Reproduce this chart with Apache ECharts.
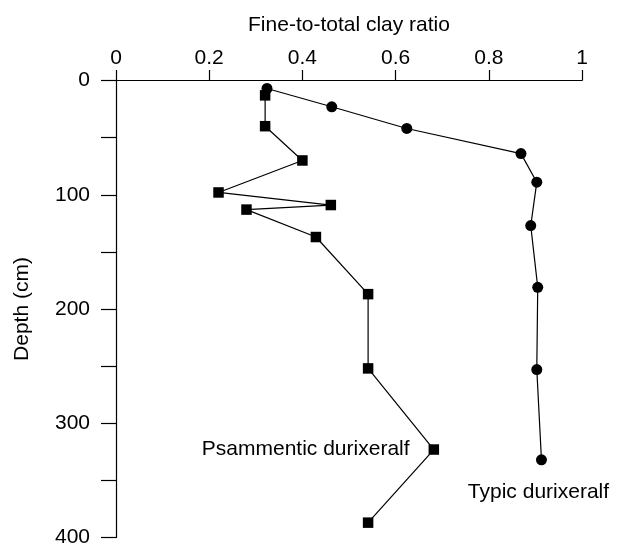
<!DOCTYPE html>
<html>
<head>
<meta charset="utf-8">
<script src="https://cdn.jsdelivr.net/npm/echarts@6/dist/echarts.min.js"></script>
<style>
html,body{margin:0;padding:0;background:#fff;}
#chart{width:624px;height:548px;}
</style>
</head>
<body>
<div id="chart"></div>
<script>
// Typic durixeralf (circles)
const typicRatio = [0.324, 0.463, 0.624, 0.869, 0.903, 0.890, 0.905, 0.903, 0.913];
const typicDepth = [7, 23, 42, 64, 89, 127, 181, 253, 332];
// Psammentic durixeralf (squares)
const psammRatio = [0.32, 0.32, 0.40, 0.22, 0.461, 0.28, 0.429, 0.541, 0.541, 0.682, 0.541];
const psammDepth = [13, 40, 70, 98, 109, 113, 137, 187, 252, 323, 387];
const seriesNames = ['Psammentic durixeralf', 'Typic durixeralf'];
const xTicks = [0, 0.2, 0.4, 0.6, 0.8, 1];
const yLabelTicks = [0, 100, 200, 300, 400];

const FONT = "'Liberation Sans', Arial, Helvetica, sans-serif";
const FS = 21;

function build(xs, ys) { return xs.map((x, i) => [x, ys[i]]); }

const psammData = build(psammRatio, psammDepth).map((d, i) => {
  if (i === 9) {
    return { value: d, label: { show: true, formatter: seriesNames[0], position: 'left', distance: 19,
      color: '#000', fontSize: FS, fontFamily: FONT } };
  }
  return d;
});
const typicData = build(typicRatio, typicDepth).map((d, i, arr) => {
  if (i === arr.length - 1) {
    return { value: d, label: { show: true, formatter: seriesNames[1], position: 'bottom', distance: 16,
      offset: [-3, 0], color: '#000', fontSize: FS, fontFamily: FONT } };
  }
  return d;
});

const chart = echarts.init(document.getElementById('chart'));
chart.setOption({
  animation: false,
  backgroundColor: '#fff',
  grid: { left: 116, right: 42, top: 80.5, bottom: 9 },
  xAxis: {
    type: 'value', position: 'top', min: 0, max: 1, interval: 0.2,
    name: 'Fine-to-total clay ratio', nameLocation: 'middle', nameGap: 45,
    nameTextStyle: { color: '#000', fontSize: FS, fontFamily: FONT },
    axisLine: { show: true, onZero: false, lineStyle: { color: '#000', width: 1.2 } },
    axisTick: { show: true, inside: false, length: 10.5, lineStyle: { color: '#000', width: 1.2 } },
    axisLabel: { color: '#000', fontSize: FS, fontFamily: FONT, margin: 12,
      formatter: v => (xTicks.some(t => Math.abs(t - v) < 1e-9) ? String(+v.toFixed(1)) : '') },
    splitLine: { show: false }
  },
  yAxis: {
    type: 'value', inverse: true, min: 0, max: 400, interval: 50,
    name: 'Depth (cm)', nameLocation: 'middle', nameGap: 83,
    nameTextStyle: { color: '#000', fontSize: FS, fontFamily: FONT },
    axisLine: { show: true, onZero: false, lineStyle: { color: '#000', width: 1.2 } },
    axisTick: { show: true, length: 15, lineStyle: { color: '#000', width: 1.2 } },
    axisLabel: { color: '#000', fontSize: FS, fontFamily: FONT, margin: 26,
      formatter: v => (yLabelTicks.indexOf(v) >= 0 ? String(v) : '') },
    splitLine: { show: false }
  },
  series: [
    {
      name: seriesNames[0], type: 'line', data: psammData,
      symbol: 'rect', symbolSize: 10.5,
      itemStyle: { color: '#000' },
      lineStyle: { color: '#000', width: 1.2 },
      z: 3
    },
    {
      name: seriesNames[1], type: 'line', data: typicData,
      symbol: 'circle', symbolSize: 11,
      itemStyle: { color: '#000' },
      lineStyle: { color: '#000', width: 1.2 },
      z: 4
    }
  ]
});
</script>
</body>
</html>
